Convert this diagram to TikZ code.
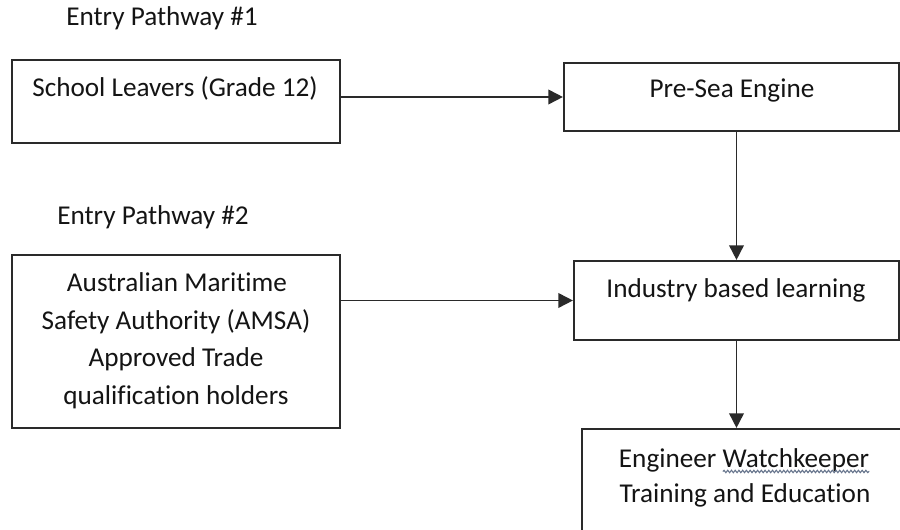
\documentclass[tikz,border=0pt]{standalone}
\usepackage{fontspec}
\setmainfont[Ligatures={NoCommon}]{Carlito}
\usetikzlibrary{arrows.meta,fit,decorations.pathmorphing,calc}
\definecolor{linec}{HTML}{2A2A2A}
\definecolor{txtc}{HTML}{141414}
\definecolor{squig}{HTML}{66748C}
\newlength\wkwidth
\begin{document}
\settowidth{\wkwidth}{\fontsize{20.4pt}{28pt}\selectfont Watchkeeper}%
\begin{tikzpicture}[x=0.75pt,y=-0.75pt,
  box/.style={draw=linec, line width=1.6pt, inner sep=0pt, rectangle},
  lbl/.style={text=txtc, font=\fontsize{20.4pt}{28pt}\selectfont, inner sep=0pt, anchor=base},
  conn/.style={draw=linec, line width=1.3pt, -{Triangle[length=11pt,width=11pt]}},
  wavy/.style={draw=squig, line width=0.8pt, decorate, decoration={snake,amplitude=0.9pt,segment length=2.8pt}}]
\clip (0,0) rectangle (900,530);
\fill[white] (0,0) rectangle (900,530);
% boxes
\node[box, fit={(12,60) (340,143)}] (b1) {};
\node[box, fit={(12,255) (340,428)}] (b2) {};
\node[box, fit={(564,63) (899,131)}] (pre) {};
\node[box, fit={(574,261) (899,340)}] (ind) {};
\node[box, fit={(582,429) (930,560)}] (eng) {};
% labels
\node[lbl] (t1) at (162,26) {Entry Pathway \#1};
\node[lbl] (t2) at (153,225) {Entry Pathway \#2};
\node[lbl] (s1) at (175,97) {School Leavers (Grade 12)};
\node[lbl] (a1) at (177,292) {Australian Maritime};
\node[lbl] (a2) at (176,329.5) {Safety Authority (AMSA)};
\node[lbl] (a3) at (176,367) {Approved Trade};
\node[lbl] (a4) at (176,404.5) {qualification holders};
\node[lbl] (p1) at (732,98) {Pre-Sea Engine};
\node[lbl] (i1) at (736,298) {Industry based learning};
\node[lbl] (e1) at (744,468) {Engineer Watchkeeper};
\node[lbl] (e2) at (745,503) {Training and Education};
\coordinate (wend) at ($(e1.base east)+(0pt,-2.6pt)$);
\coordinate (wstart) at ($(wend)+(-\wkwidth,0pt)$);
\draw[wavy] (wstart) -- (wend);
% connectors
\draw[conn] (b1.east |- pre.west) -- (pre.west);
\draw[conn] (b2.east |- ind.west) -- (ind.west);
\draw[conn] (ind.north |- pre.south) -- (ind.north);
\draw[conn] (ind.south) -- (ind.south |- eng.north);
\end{tikzpicture}
\end{document}
